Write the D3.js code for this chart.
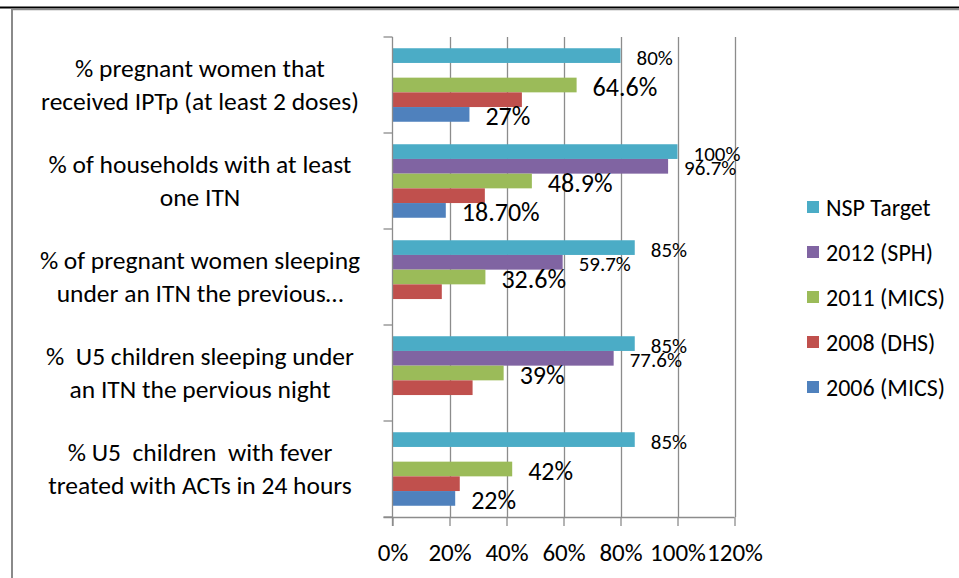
<!DOCTYPE html>
<html>
<head>
<meta charset="utf-8">
<script src="https://cdn.jsdelivr.net/npm/d3@7"></script>
<style>
  html, body { margin: 0; padding: 0; background: #fff; }
  svg { display: block; }
  text { font-family: Carlito, Lato, "Liberation Sans", sans-serif; fill: #000; }
</style>
</head>
<body>
<svg id="chart" width="959" height="578"></svg>
<script>
// ---- Data ----
const categories = [
  "% pregnant women that\nreceived IPTp (at least 2 doses)",
  "% of households with at least\none ITN",
  "% of pregnant women sleeping\nunder an ITN the previous…",
  "%  U5 children sleeping under\nan ITN the pervious night",
  "% U5  children  with fever\ntreated with ACTs in 24 hours"
];
const seriesNames = ["NSP Target", "2012 (SPH)", "2011 (MICS)", "2008 (DHS)", "2006 (MICS)"];
const nspTarget = [80, 100, 85, 85, 85];
const sph2012   = [null, 96.7, 59.7, 77.6, null];
const mics2011  = [64.6, 48.9, 32.6, 39, 42];
const dhs2008   = [45.4, 32.4, 17.3, 28.1, 23.6];
const mics2006  = [27, 18.7, null, null, 22];
const nspLabels  = ["80%", "100%", "85%", "85%", "85%"];
const sphLabels  = [null, "96.7%", "59.7%", "77.6%", null];
const m11Labels  = ["64.6%", "48.9%", "32.6%", "39%", "42%"];
const dhsLabels  = [null, null, null, null, null];
const m06Labels  = ["27%", "18.70%", null, null, "22%"];
const xTickValues = [0, 20, 40, 60, 80, 100, 120];
const xTickLabels = ["0%", "20%", "40%", "60%", "80%", "100%", "120%"];

// ---- Build ----
const seriesValues = [nspTarget, sph2012, mics2011, dhs2008, mics2006];
const seriesLabels = [nspLabels, sphLabels, m11Labels, dhsLabels, m06Labels];
const colors = ["#4BACC6", "#8064A2", "#9BBB59", "#C0504D", "#4F81BD"];
const labelSize = [21, 21, 26, 26, 26];

const svg = d3.select("#chart");

// frame lines
svg.append("line").attr("x1", 0).attr("x2", 959).attr("y1", 7.5).attr("y2", 7.5)
  .attr("stroke", "#000").attr("stroke-width", 2);
svg.append("line").attr("x1", 11).attr("x2", 959).attr("y1", 9.5).attr("y2", 9.5)
  .attr("stroke", "#8a8a8a").attr("stroke-width", 1.5);
svg.append("line").attr("x1", 12).attr("x2", 12).attr("y1", 9).attr("y2", 578)
  .attr("stroke", "#8a8a8a").attr("stroke-width", 2);

const x = d3.scaleLinear().domain([0, 120]).range([392.5, 734.5]);
const y0 = d3.scaleBand().domain(d3.range(categories.length)).range([37, 517]).padding(0);
const y1 = d3.scaleBand().domain(d3.range(seriesNames.length))
  .range([0, y0.bandwidth()]).paddingInner(0).paddingOuter(0.765);

// gridlines
svg.append("g").selectAll("line").data(xTickValues.slice(1)).join("line")
  .attr("x1", d => Math.round(x(d)) + 0.5).attr("x2", d => Math.round(x(d)) + 0.5)
  .attr("y1", 37).attr("y2", 517)
  .attr("stroke", "#8c8c8c").attr("stroke-width", 1.3);

// bars
const gBars = svg.append("g");
seriesValues.forEach((vals, si) => {
  gBars.append("g").selectAll("rect")
    .data(vals.map((v, ci) => ({ v, ci })).filter(d => d.v != null))
    .join("rect")
    .attr("x", x(0))
    .attr("y", d => y0(d.ci) + y1(si))
    .attr("width", d => x(d.v) - x(0))
    .attr("height", y1.bandwidth())
    .attr("fill", colors[si]);
});

// data labels
const gLab = svg.append("g");
seriesLabels.forEach((labs, si) => {
  gLab.append("g").selectAll("text")
    .data(labs.map((t, ci) => ({ t, ci, v: seriesValues[si][ci] })).filter(d => d.t != null))
    .join("text")
    .attr("x", d => x(d.v) + 16)
    .attr("y", d => y0(d.ci) + y1(si) + y1.bandwidth() / 2 + 2)
    .attr("dominant-baseline", "central")
    .attr("font-size", labelSize[si])
    .text(d => d.t);
});

// x axis
const xAxis = d3.axisBottom(x).tickValues(xTickValues)
  .tickFormat((d, i) => xTickLabels[i]).tickSize(9).tickPadding(17);
const gx = svg.append("g").attr("transform", "translate(0,517)").call(xAxis);
gx.select(".domain").attr("stroke", "#8c8c8c").attr("stroke-width", 1.3)
  .attr("d", `M${x(0) - 9},0.5H${x(120)}`);
gx.selectAll(".tick line").attr("stroke", "#8c8c8c").attr("stroke-width", 1.3);
gx.selectAll(".tick text").attr("font-size", 25).attr("fill", "#000")
  .style("font-family", "Carlito, Lato, 'Liberation Sans', sans-serif");

// y axis line & category ticks
svg.append("line").attr("x1", x(0)).attr("x2", x(0)).attr("y1", 37).attr("y2", 526)
  .attr("stroke", "#8c8c8c").attr("stroke-width", 1.3);
const bounds = categories.map((c, i) => y0(i)).concat([y0.range()[1]]);
svg.append("g").selectAll("line").data(bounds).join("line")
  .attr("x1", x(0) - 9).attr("x2", x(0)).attr("y1", d => d).attr("y2", d => d)
  .attr("stroke", "#8c8c8c").attr("stroke-width", 1.3);

// category labels
const lineH = 33;
const gCat = svg.append("g");
categories.forEach((c, i) => {
  const lines = c.split("\n");
  const cy = y0(i) + y0.bandwidth() / 2;
  const t = gCat.append("text").attr("text-anchor", "middle").attr("font-size", 25.5)
    .style("white-space", "pre");
  lines.forEach((ln, k) => {
    t.append("tspan").attr("x", 200)
      .attr("y", cy + (k - (lines.length - 1) / 2) * lineH)
      .attr("dominant-baseline", "central")
      .text(ln);
  });
});

// legend
const gLeg = svg.append("g");
seriesNames.forEach((n, i) => {
  const ly = 207 + i * 45;
  gLeg.append("rect").attr("x", 807).attr("y", ly - 6).attr("width", 12).attr("height", 12)
    .attr("fill", colors[i]);
  gLeg.append("text").attr("x", 826).attr("y", ly).attr("dominant-baseline", "central")
    .attr("font-size", 24).text(n);
});
</script>
</body>
</html>
